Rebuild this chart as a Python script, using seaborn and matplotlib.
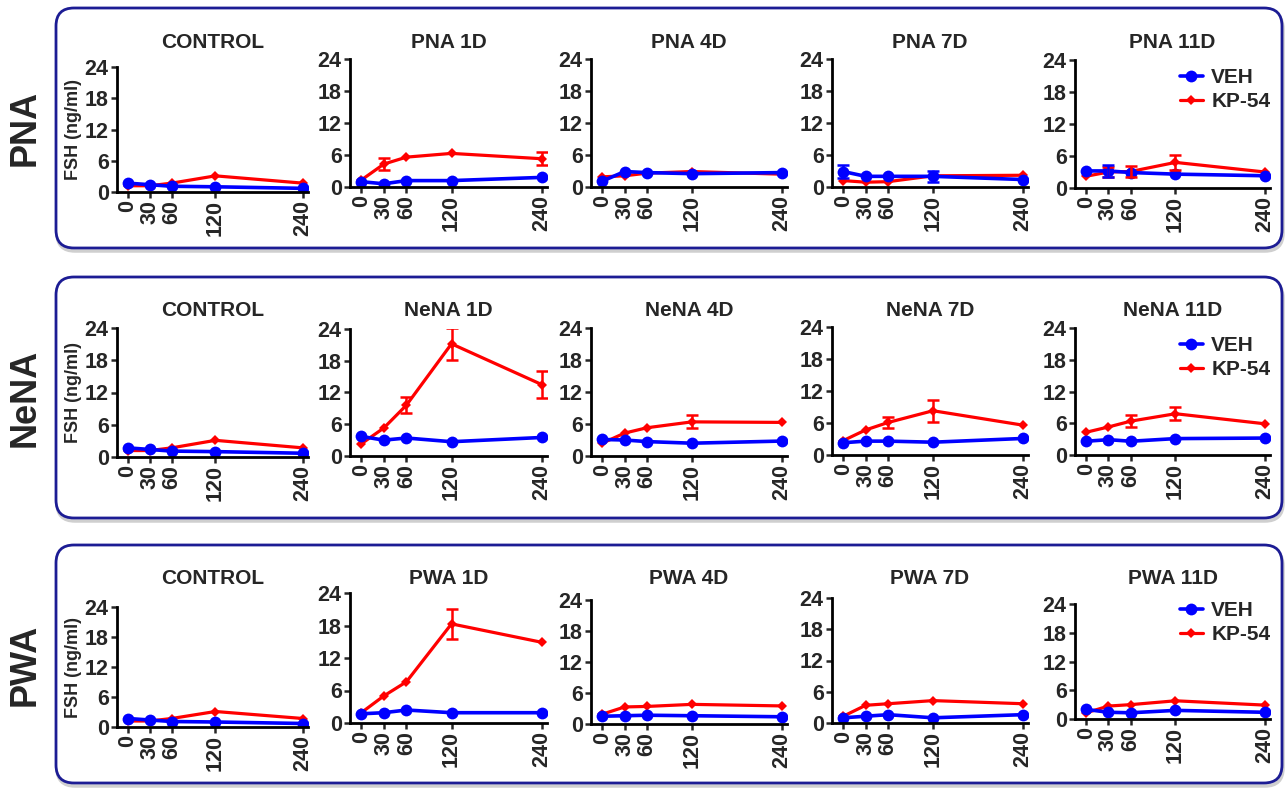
import numpy as np
import pandas as pd
import seaborn as sns
import matplotlib.pyplot as plt
from matplotlib.patches import FancyBboxPatch

# time points (min)
times = [0, 30, 60, 120, 240]

# control data (same in every row)
ctrl_veh = [1.7, 1.4, 1.1, 1.0, 0.7]
ctrl_kp = [1.2, 1.2, 1.7, 3.1, 1.7]

# PNA group: 1D, 4D, 7D, 11D
pna_veh = [[1.0, 0.6, 1.2, 1.2, 1.8],
           [1.1, 2.9, 2.7, 2.5, 2.7],
           [2.9, 2.0, 2.0, 2.0, 1.4],
           [3.2, 3.2, 2.9, 2.6, 2.3]]
pna_veh_err = [[0, 0, 0, 0, 0],
               [0, 0, 0, 0, 0],
               [1.3, 0, 0, 1.0, 0],
               [0, 1.1, 0, 0, 0]]
pna_kp = [[1.3, 4.3, 5.6, 6.3, 5.3],
          [1.9, 2.1, 2.6, 2.9, 2.4],
          [1.2, 0.9, 1.0, 2.1, 2.2],
          [2.2, 3.0, 3.1, 4.8, 3.0]]
pna_kp_err = [[0, 1.2, 0, 0, 1.2],
              [0, 0, 0, 0, 0],
              [0, 0, 0, 0, 0],
              [0, 1.0, 1.0, 1.4, 0]]

# NeNA group
nena_veh = [[3.7, 3.0, 3.4, 2.7, 3.5],
            [3.1, 3.0, 2.7, 2.4, 2.8],
            [2.3, 2.6, 2.6, 2.4, 3.1],
            [2.6, 2.9, 2.6, 3.1, 3.2]]
nena_veh_err = [[0, 0, 0, 0, 0]] * 4
nena_kp = [[2.3, 5.3, 9.6, 21.2, 13.5],
           [2.4, 4.3, 5.3, 6.4, 6.3],
           [2.7, 4.7, 6.1, 8.3, 5.6],
           [4.3, 5.3, 6.4, 7.8, 5.9]]
nena_kp_err = [[0, 0, 1.5, 3.0, 2.5],
               [0, 0, 0, 1.2, 0],
               [0, 0, 1.1, 2.1, 0],
               [0, 0, 1.1, 1.2, 0]]

# PWA group
pwa_veh = [[1.7, 1.9, 2.4, 1.9, 1.9],
           [1.5, 1.6, 1.7, 1.6, 1.4],
           [1.0, 1.3, 1.6, 1.0, 1.6],
           [2.0, 1.4, 1.3, 1.8, 1.4]]
pwa_veh_err = [[0, 0, 0, 0, 0]] * 4
pwa_kp = [[1.9, 5.0, 7.6, 18.3, 14.9],
          [1.9, 3.3, 3.4, 3.8, 3.5],
          [1.3, 3.4, 3.7, 4.3, 3.7],
          [1.3, 2.7, 3.0, 3.8, 2.9]]
pwa_kp_err = [[0, 0, 0, 2.7, 0],
              [0, 0, 0, 0, 0],
              [0, 0, 0, 0, 0],
              [0, 0, 0, 0, 0]]

row_names = ['PNA', 'NeNA', 'PWA']
days = ['1D', '4D', '7D', '11D']

groups = [(pna_veh, pna_veh_err, pna_kp, pna_kp_err),
          (nena_veh, nena_veh_err, nena_kp, nena_kp_err),
          (pwa_veh, pwa_veh_err, pwa_kp, pwa_kp_err)]

sns.set_style('ticks')
plt.rcParams['font.family'] = ['Liberation Sans', 'DejaVu Sans']
plt.rcParams['font.weight'] = 'bold'

W, H = 1286, 788
fig = plt.figure(figsize=(W / 100, H / 100), dpi=100)

# background axes in pixel units for the rounded frames
bg = fig.add_axes([0, 0, 1, 1], zorder=-1)
bg.set_xlim(0, W)
bg.set_ylim(H, 0)
bg.axis('off')
for top, bot in [(8, 248), (277, 518), (545, 783)]:
    # faint shadow then frame
    bg.add_patch(FancyBboxPatch((57, top + 3), 1226, bot - top,
                                boxstyle='round,pad=0,rounding_size=18',
                                fc='none', ec='#cfcfcf', lw=2.5))
    bg.add_patch(FancyBboxPatch((56, top), 1226, bot - top,
                                boxstyle='round,pad=0,rounding_size=18',
                                fc='white', ec='#1c1c94', lw=2))

# panel geometry in pixels
lefts = [117, 350, 591, 832, 1075]
rights = [308, 547, 787, 1028, 1270]
tops = [[67, 59, 59, 59, 60],
        [328, 329, 328, 327, 328],
        [607, 593, 600, 598, 604]]
bottoms = [[192, 187, 187, 187, 188],
           [457, 456, 456, 455, 455],
           [727, 723, 724, 723, 719]]
title_y = [43, 310, 579]
label_y = [128, 398, 665]
legend_top = [68, 336, 601]

blue = '#0000FF'
red = '#FF0000'


def draw(ax, veh, veh_err, kp, kp_err):
    df = pd.DataFrame({'time': times, 'veh': veh, 'kp': kp})
    sns.lineplot(data=df, x='time', y='kp', ax=ax, color=red, marker='D',
                 markersize=5.5, markeredgewidth=0, linewidth=2.3, label='KP-54')
    sns.lineplot(data=df, x='time', y='veh', ax=ax, color=blue, marker='o',
                 markersize=8.5, markeredgewidth=0, linewidth=2.6, label='VEH')
    for vals, err, c in [(kp, kp_err, red), (veh, veh_err, blue)]:
        idx = [i for i, e in enumerate(err) if e > 0]
        if idx:
            ax.errorbar([times[i] for i in idx], [vals[i] for i in idx],
                        yerr=[err[i] for i in idx], fmt='none', ecolor=c,
                        elinewidth=1.8, capsize=4.5, capthick=1.8, zorder=3)


for r in range(3):
    veh_g, veh_e, kp_g, kp_e = groups[r]
    for c in range(5):
        l, rt = lefts[c], rights[c]
        t, b = tops[r][c], bottoms[r][c]
        ax = fig.add_axes([l / W, 1 - b / H, (rt - l) / W, (b - t) / H])
        if c == 0:
            draw(ax, ctrl_veh, [0] * 5, ctrl_kp, [0] * 5)
            title = 'CONTROL'
        else:
            draw(ax, veh_g[c - 1], veh_e[c - 1], kp_g[c - 1], kp_e[c - 1])
            title = f'{row_names[r]} {days[c - 1]}'
        ax.set_xlim(-15, 247)
        ax.set_ylim(0, 24)
        ax.set_xticks(times)
        ax.set_yticks([0, 6, 12, 18, 24])
        ax.tick_params(axis='x', rotation=90)
        ax.tick_params(labelsize=15.5, width=1.8, length=4, pad=2)
        for lab in ax.get_xticklabels() + ax.get_yticklabels():
            lab.set_fontweight('bold')
        sns.despine(ax=ax)
        for s in ['left', 'bottom']:
            ax.spines[s].set_linewidth(2)
            ax.spines[s].set_color('black')
        ax.set_xlabel('')
        ax.set_ylabel('FSH (ng/ml)' if c == 0 else '', fontsize=13,
                      fontweight='bold', labelpad=2)
        fig.text((l + rt) / 2 / W, 1 - title_y[r] / H, title, ha='center',
                 va='center', fontsize=15, fontweight='bold')
        leg = ax.get_legend()
        if leg:
            leg.remove()
        if c == 4:
            h, lb = ax.get_legend_handles_labels()
            ax.legend(h[::-1], lb[::-1], loc='upper left', frameon=False,
                      bbox_to_anchor=(1180 / W, 1 - legend_top[r] / H),
                      bbox_transform=fig.transFigure, borderaxespad=0,
                      borderpad=0, handlelength=1.1, handletextpad=0.4,
                      labelspacing=0.25, prop={'size': 15, 'weight': 'bold'})
    fig.text(25 / W, 1 - label_y[r] / H, row_names[r], rotation=90,
             ha='center', va='center', fontsize=26, fontweight='bold')

fig.savefig('out.png', dpi=100)
